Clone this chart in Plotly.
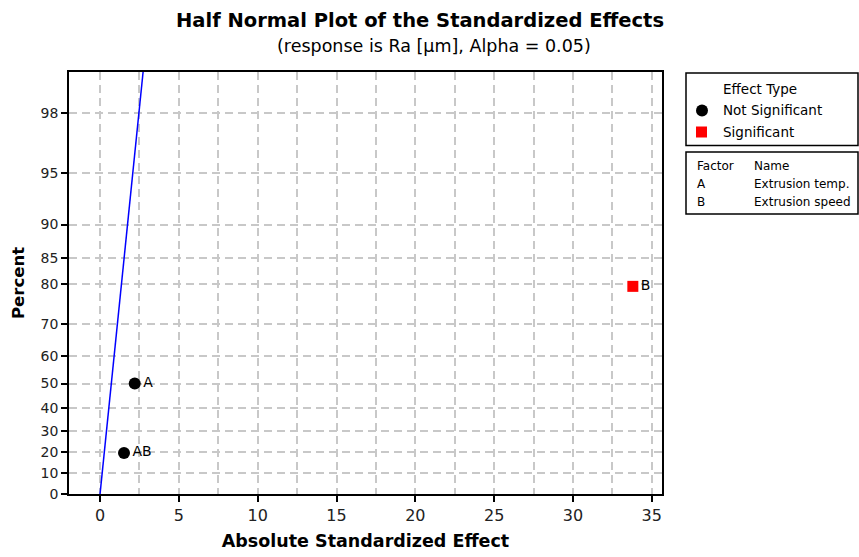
import plotly.graph_objects as go
from statistics import NormalDist

# ---- data ----
terms = ["AB", "A", "B"]
effects = [1.52, 2.20, 33.8]
percents = [19.8, 50.0, 79.5]
significant = [False, False, True]

line_percent = [0.0, 99.0]
line_effect = [0.0, 2.73]

ytick_percent = [0, 10, 20, 30, 40, 50, 60, 70, 80, 85, 90, 95, 98]
xtick_vals = [0, 5, 10, 15, 20, 25, 30, 35]

factor_codes = ["A", "B"]
factor_names = ["Extrusion temp.", "Extrusion speed"]

nd = NormalDist()


def hq(p):
    """half-normal quantile of a percent"""
    return nd.inv_cdf(0.5 + p / 200.0) if p > 0 else 0.0


FONT = "DejaVu Sans"
L, R, T, B = 69, 197, 72, 63
W, H = 859, 557
PW, PH = W - L - R, H - T - B


def px(x):
    return (x - L) / PW


def py(y):
    return (H - B - y) / PH


fig = go.Figure()

fig.add_trace(go.Scatter(
    x=line_effect, y=[hq(p) for p in line_percent], mode="lines",
    line=dict(color="#0000ff", width=1.5), hoverinfo="skip", showlegend=False))

ns = [i for i, s in enumerate(significant) if not s]
sg = [i for i, s in enumerate(significant) if s]
fig.add_trace(go.Scatter(
    x=[effects[i] for i in ns], y=[hq(percents[i]) for i in ns],
    mode="markers+text", text=[terms[i] for i in ns], textposition="middle right",
    textfont=dict(family=FONT, size=14, color="black"),
    marker=dict(symbol="circle", size=12, color="black"), showlegend=False))
fig.add_trace(go.Scatter(
    x=[effects[i] for i in sg], y=[hq(percents[i]) for i in sg],
    mode="markers+text", text=[terms[i] for i in sg], textposition="middle right",
    textfont=dict(family=FONT, size=14, color="black"),
    marker=dict(symbol="square", size=11, color="#ff0000"), showlegend=False))

ymax = hq(99.0)
grid = dict(showgrid=True, gridcolor="#c8c8c8", gridwidth=1.5, griddash="8px,5px")

fig.update_xaxes(range=[-1.97, 35.65], tickvals=xtick_vals, ticks="outside", ticklen=6,
                 tickwidth=1.5, tickcolor="black", showline=True, linecolor="black",
                 linewidth=1.8, mirror=True, zeroline=False, automargin=False,
                 tickfont=dict(family=FONT, size=16, color="#222"),
                 showgrid=False,
                 minor=dict(dtick=2.5, tick0=0, showgrid=True, gridcolor="#c8c8c8",
                            gridwidth=1.5, griddash="8px,5px", ticks=""),
                 title=dict(text="<b>Absolute Standardized Effect</b>",
                            font=dict(family=FONT, size=17.5, color="black"), standoff=11))
fig.update_yaxes(range=[0, ymax], tickvals=[hq(p) for p in ytick_percent],
                 ticktext=[str(p) for p in ytick_percent], ticks="outside", ticklen=6,
                 tickwidth=1.5, tickcolor="black", showline=True, linecolor="black",
                 linewidth=1.8, mirror=True, zeroline=False, automargin=False,
                 tickfont=dict(family=FONT, size=14, color="#222"),
                 title=dict(text="<b>Percent</b>", font=dict(family=FONT, size=16.5, color="black"),
                            standoff=12), **grid)

shapes = []
annotations = []


def ann(x, y, text, size, xanchor="left", bold=False):
    annotations.append(dict(x=px(x), y=py(y), xref="paper", yref="paper", showarrow=False,
                            xanchor=xanchor, yanchor="middle",
                            text=f"<b>{text}</b>" if bold else text,
                            font=dict(family=FONT, size=size, color="black")))


ann(420, 20, "Half Normal Plot of the Standardized Effects", 19.5, "center", True)
ann(434, 46, "(response is Ra [µm], Alpha = 0.05)", 17.5, "center")

# legend box 1
shapes.append(dict(type="rect", xref="paper", yref="paper", x0=px(686), x1=px(858),
                   y0=py(73), y1=py(145.5), line=dict(color="black", width=1.5)))
ann(721, 89, "Effect Type", 13.5)
shapes.append(dict(type="circle", xref="paper", yref="paper", x0=px(696), x1=px(708),
                   y0=py(104.5), y1=py(116.5), fillcolor="black", line=dict(width=0)))
ann(721, 110.5, "Not Significant", 13.5)
shapes.append(dict(type="rect", xref="paper", yref="paper", x0=px(696), x1=px(707),
                   y0=py(126.5), y1=py(137.5), fillcolor="#ff0000", line=dict(width=0)))
ann(721, 132, "Significant", 13.5)

# legend box 2
shapes.append(dict(type="rect", xref="paper", yref="paper", x0=px(686), x1=px(858),
                   y0=py(152), y1=py(214), line=dict(color="black", width=1.5)))
ann(695, 166, "Factor", 12)
ann(752, 166, "Name", 12)
for k, (c, n) in enumerate(zip(factor_codes, factor_names)):
    yy = 184 + 18 * k
    ann(695, yy, c, 12)
    ann(752, yy, n, 12)

fig.update_layout(width=W, height=H, margin=dict(l=L, r=R, t=T, b=B),
                  plot_bgcolor="white", paper_bgcolor="white",
                  shapes=shapes, annotations=annotations, showlegend=False)

fig.write_html("out.html")
